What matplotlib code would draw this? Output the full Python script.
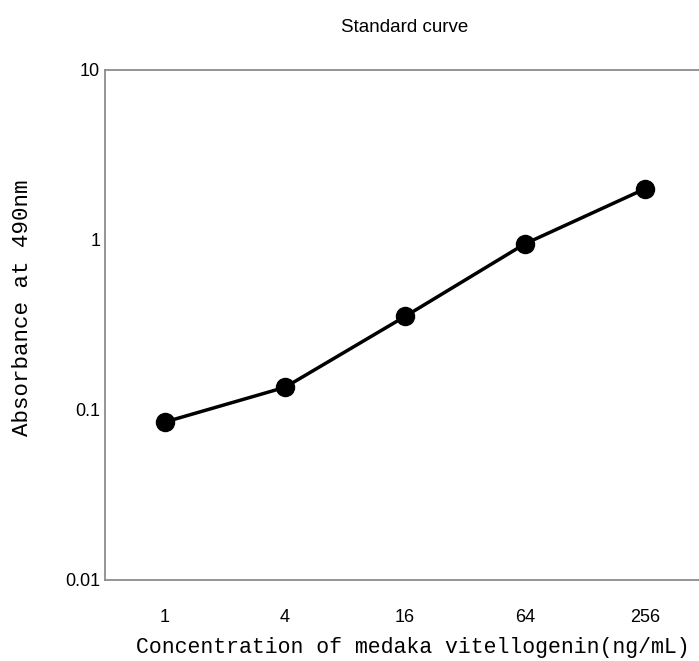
import matplotlib.pyplot as plt

# data
concentrations = ["1", "4", "16", "64", "256"]
absorbance = [0.085, 0.136, 0.355, 0.95, 2.0]
y_ticks = [0.01, 0.1, 1, 10]
y_tick_labels = ["0.01", "0.1", "1", "10"]

gothic = ["Liberation Sans Narrow", "Liberation Sans", "DejaVu Sans"]
mincho = ["Liberation Mono", "DejaVu Sans Mono"]

W, H = 699, 661
fig = plt.figure(figsize=(W / 100, H / 100), dpi=100)
# the plot area runs a little past the right edge, as in the reference
ax = fig.add_axes([105 / W, (H - 580) / H, 600 / W, 510 / H])

x = list(range(len(concentrations)))
ax.plot(x, absorbance, color="black", linewidth=2.5, marker="o",
        markersize=13, zorder=3)

ax.set_yscale("log")
ax.set_ylim(0.01, 10)
ax.set_xlim(-0.5, len(concentrations) - 0.5)
ax.set_yticks(y_ticks)
ax.set_yticklabels(y_tick_labels)
ax.minorticks_off()
ax.set_xticks(x)
ax.set_xticklabels(concentrations)
ax.tick_params(axis="x", length=0, labelsize=13, pad=21)
ax.tick_params(axis="y", length=0, labelsize=13, pad=3.5)
for lbl in ax.get_xticklabels() + ax.get_yticklabels():
    lbl.set_family(gothic)

for side in ["left", "bottom", "top", "right"]:
    ax.spines[side].set_color("#8c8c8c")
    ax.spines[side].set_linewidth(1.3)

# axis titles placed like in the reference
fig.text(413 / W, 1 - 647 / H, "Concentration of medaka vitellogenin(ng/mL)",
         ha="center", va="center", family=mincho, fontsize=15.5)
fig.text(23 / W, 1 - 308 / H, "Absorbance at 490nm", rotation=90,
         ha="center", va="center", family=mincho, fontsize=16.2)
fig.text(405 / W, 1 - 27 / H, "Standard curve",
         ha="center", va="center", fontsize=13.5, family=gothic)

plt.savefig("out.png", dpi=100)
